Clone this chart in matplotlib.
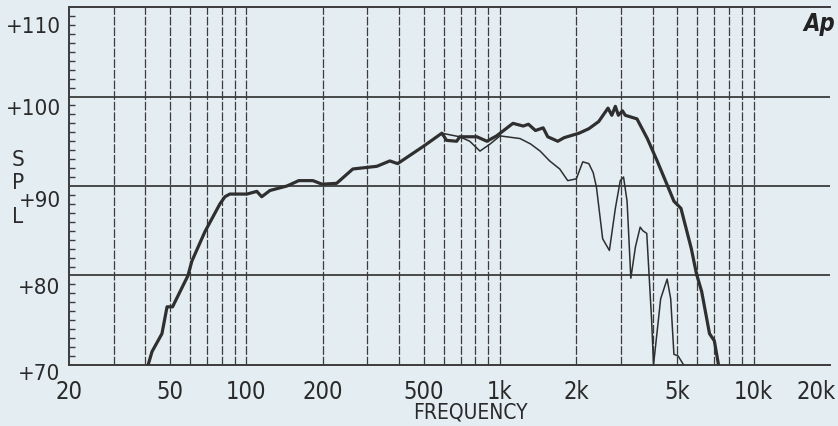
import numpy as np
import matplotlib
matplotlib.use('Agg')
from matplotlib import pyplot as plt
from matplotlib.ticker import FixedLocator, MultipleLocator, NullFormatter
import matplotlib.transforms as mtransforms

# on-axis response (thick line)
freq_on = [41, 42.5, 46.5, 48.7, 51.2, 58.9, 61, 68.7, 78.7, 82.4, 86.1, 100.6,
           110, 115, 124, 144.6, 161, 183, 199, 227, 263, 327, 368, 395, 497,
           590, 616, 675, 694, 811, 888, 970, 1125, 1235, 1295, 1380, 1480,
           1543, 1690, 1790, 2050, 2240, 2450, 2666, 2760, 2850, 2930, 3040,
           3120, 3468, 3810, 4180, 4580, 4850, 5170, 5680, 5950, 6240, 6700,
           7000, 7270]
spl_on = [70, 71.5, 73.5, 76.5, 76.5, 80, 81.6, 84.9, 88, 88.8, 89.1, 89.1,
          89.4, 88.8, 89.5, 90.0, 90.6, 90.6, 90.2, 90.3, 91.9, 92.2, 92.8, 92.5, 94.4,
          95.9, 95.1, 95.0, 95.5, 95.5, 95.0, 95.6, 97.0, 96.7, 96.9, 96.2, 96.5,
          95.5, 95.0, 95.4, 95.9, 96.4, 97.2, 98.7, 97.9, 98.9, 97.9, 98.4,
          97.9, 97.5, 95.3, 92.7, 90.0, 88.3, 87.5, 83.0, 80.2, 78.2, 73.5,
          72.7, 70]

# off-axis response (thin line), same as on-axis below ~600 Hz
freq_off = [590, 694, 760, 834, 915, 1000, 1200, 1320, 1440, 1570, 1720, 1850,
            2000, 2120, 2240, 2330, 2400, 2540, 2700, 2850, 2980, 3070, 3170,
            3280, 3420, 3570, 3660, 3790, 3960, 4030, 4300, 4560, 4710, 4850,
            5040, 5300]
spl_off = [95.9, 95.5, 95.0, 93.9, 94.7, 95.6, 95.3, 94.7, 93.9, 92.8, 91.9, 90.6,
           90.8, 92.7, 92.5, 91.5, 89.9, 84.1, 82.8, 87.5, 90.6, 91.0, 88.3,
           79.7, 83.2, 85.4, 85.0, 84.7, 75.1, 70, 77.4, 79.6, 77.4, 71.2,
           71.0, 70]

xticks = [20, 50, 100, 200, 500, 1000, 2000, 5000, 10000, 20000]
xlabels = ['20', '50', '100', '200', '500', '1k', '2k', '5k', '10k', '20k']
yticks = [70, 80, 90, 100, 110]
ylabels = ['+70', '+80', '+90', '+100', '+110']

bg = '#e3edf2'
ink = '#2f2f2f'
txt = '#2a2a2a'
font = dict(family='DejaVu Sans', stretch='condensed')

fig = plt.figure(figsize=(8.38, 4.27), dpi=100, facecolor=bg)
ax = fig.add_axes([69/838, 61/427, 761/838, 358/427], facecolor=bg)

ax.plot(freq_off, spl_off, color=ink, lw=1.1, zorder=3)
ax.plot(freq_on, spl_on, color=ink, lw=2.3, zorder=4, solid_joinstyle='round')

ax.set_xscale('log')
ax.set_xlim(20, 20000)
ax.set_ylim(70, 110)

# vertical grid on every log step
vgrid = [m * 10**e for e in range(1, 5) for m in range(1, 10)]
vgrid = [v for v in vgrid if 20 < v < 20000]
for v in vgrid:
    ax.axvline(v, color='#3c3c3c', lw=0.9, ls=(0, (7, 1.5)), zorder=1)
for h in [80, 90, 100]:
    ax.axhline(h, color='#3c3c3c', lw=1.3, zorder=1)

ax.xaxis.set_major_locator(FixedLocator(xticks))
ax.xaxis.set_minor_locator(FixedLocator([]))
ax.xaxis.set_minor_formatter(NullFormatter())
ax.set_xticklabels(xlabels, fontsize=17, color=txt, **font)
ax.tick_params(axis='x', length=0, pad=10)
xt = ax.get_xticklabels()
xt[-1].set_horizontalalignment('right')
xt[-1].set_transform(xt[-1].get_transform() + mtransforms.ScaledTranslation(6/100, 0, fig.dpi_scale_trans))

ax.set_yticks(yticks)
ax.set_yticklabels(ylabels, fontsize=16, color=txt, **font)
ax.yaxis.set_minor_locator(MultipleLocator(1))
ax.tick_params(axis='y', which='major', length=0, pad=6)
ax.tick_params(axis='y', which='minor', direction='in', length=4, width=1, color='#3c3c3c')
for lab, dy in zip(ax.get_yticklabels(), [6, 10, 12, 10, 17]):
    lab.set_transform(lab.get_transform() + mtransforms.ScaledTranslation(0, -dy/100, fig.dpi_scale_trans))

for side in ['left', 'bottom', 'top']:
    ax.spines[side].set_color('#3c3c3c')
    ax.spines[side].set_linewidth(1.4)
ax.spines['right'].set_visible(False)

# stacked axis title and x title
for letter, ypix in zip('SPL', [160, 183, 217]):
    fig.text(18/838, 1 - ypix/427, letter, fontsize=16, color=txt,
             ha='center', va='center', **font)
fig.text(470/838, 1 - 413/427, 'FREQUENCY', fontsize=15, color=txt,
         ha='center', va='center', **font)
fig.text(819/838, 1 - 24/427, 'Ap', fontsize=17, fontweight='bold',
         fontstyle='italic', color='#222222', ha='center', va='center', **font)

fig.savefig('out.png', dpi=100, facecolor=bg)
